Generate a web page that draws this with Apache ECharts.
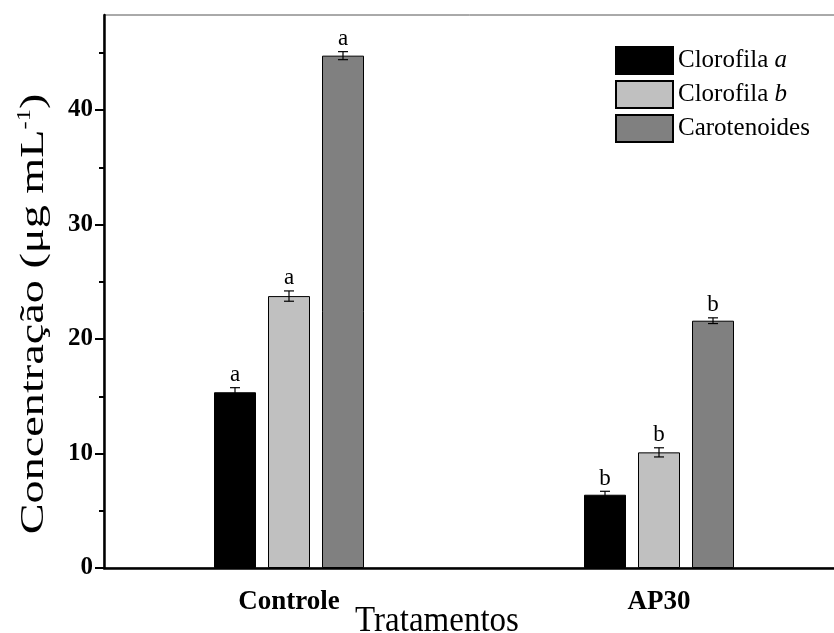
<!DOCTYPE html>
<html>
<head>
<meta charset="utf-8">
<script src="https://cdn.jsdelivr.net/npm/echarts@6/dist/echarts.min.js"></script>
<style>
  html, body { margin: 0; padding: 0; background: #fff; }
  #chart { width: 834px; height: 633px; }
</style>
</head>
<body>
<div id="chart"></div>
<script>
// dados
const tratamentos = ['Controle', 'AP30'];
const clorofilaA = [15.35, 6.4];
const clorofilaB = [23.75, 10.1];
const carotenoides = [44.75, 21.6];
const erroA = [0.4, 0.3];
const erroB = [0.45, 0.4];
const erroCar = [0.35, 0.25];
const letrasA = ['a', 'b'];
const letrasB = ['a', 'b'];
const letrasCar = ['a', 'b'];
const yTicks = [0, 10, 20, 30, 40];
const yMinorTicks = [5, 15, 25, 35, 45];

const serif = 'Liberation Serif, Times New Roman, serif';
const chart = echarts.init(document.getElementById('chart'));

const barW = 42;
const gap = 12;

// barras de erro + letras (custom series)
function errorSeries(name, values, errs, letters, idx) {
  return {
    type: 'custom',
    name: name + ' erro',
    z: 10,
    data: values.map((v, i) => [i, v, errs[i], letters[i]]),
    renderItem: (params, api) => {
      const c = api.value(0);
      const v = api.value(1);
      const e = api.value(2);
      const off = (idx - 1) * (barW + gap);
      const top = api.coord([c, v + e]);
      const bot = api.coord([c, v - e]);
      const x = top[0] + off;
      const cap = 5;
      const st = { stroke: '#000', lineWidth: 1.2 };
      return {
        type: 'group',
        children: [
          { type: 'line', shape: { x1: x, y1: top[1], x2: x, y2: bot[1] }, style: st },
          { type: 'line', shape: { x1: x - cap, y1: top[1], x2: x + cap, y2: top[1] }, style: st },
          { type: 'line', shape: { x1: x - cap, y1: bot[1], x2: x + cap, y2: bot[1] }, style: st },
          {
            type: 'text',
            style: {
              x: x, y: top[1] - 1,
              text: api.value(3),
              fill: '#000',
              font: '23px ' + serif,
              textAlign: 'center',
              textVerticalAlign: 'bottom'
            }
          }
        ]
      };
    }
  };
}

const barStyle = (color) => ({ color: color, borderColor: '#000', borderWidth: 1 });
const barGapPct = (gap / barW * 100) + '%';

const option = {
  animation: false,
  backgroundColor: '#fff',
  textStyle: { fontFamily: serif },
  grid: {
    left: 104, right: -10, top: 15, bottom: 65,
    outerBoundsMode: 'none',
    containLabel: false,
    show: true, borderColor: '#555', borderWidth: 1
  },
  legend: {
    left: 610, top: 41,
    orient: 'vertical',
    icon: 'rect',
    itemWidth: 57, itemHeight: 27, itemGap: 5,
    data: ['Clorofila a', 'Clorofila b', 'Carotenoides'],
    formatter: (n) => {
      if (n === 'Clorofila a') return 'Clorofila {i|a}';
      if (n === 'Clorofila b') return 'Clorofila {i|b}';
      return n;
    },
    textStyle: {
      fontFamily: serif, fontSize: 25, color: '#000',
      rich: { i: { fontFamily: serif, fontSize: 25, fontStyle: 'italic', color: '#000' } }
    }
  },
  // títulos dos eixos (texto esticado como no original)
  graphic: [
    {
      type: 'text',
      x: 437, y: 621,
      scaleY: 1.1,
      style: {
        text: 'Tratamentos',
        font: '33px ' + serif,
        fill: '#000',
        textAlign: 'center',
        textVerticalAlign: 'middle'
      }
    },
    {
      type: 'text',
      x: 34, y: 314,
      rotation: Math.PI / 2,
      scaleX: 1.36,
      style: {
        text: 'Concentração (μg mL{sup|-1})',
        font: '34px ' + serif,
        fill: '#000',
        textAlign: 'center',
        textVerticalAlign: 'middle',
        rich: { sup: { fontFamily: serif, fontSize: 18, fill: '#000', padding: [0, 0, 18, 0] } }
      }
    }
  ],
  xAxis: [
    {
      type: 'category',
      data: tratamentos,
      axisLine: { lineStyle: { color: '#000', width: 2.5 } },
      axisTick: { alignWithLabel: true, length: 10, lineStyle: { color: '#000', width: 2 } },
      axisLabel: { fontFamily: serif, fontSize: 27, fontWeight: 'bold', color: '#000', margin: 21 }
    },
    {
      type: 'category',
      data: tratamentos,
      position: 'bottom',
      axisLine: { show: false },
      axisTick: { length: 5, lineStyle: { color: '#000', width: 2 } },
      axisLabel: { show: false }
    }
  ],
  yAxis: [
    {
      type: 'value',
      min: 0, max: 48.3,
      splitLine: { show: false },
      axisLine: { show: true, lineStyle: { color: '#000', width: 2.5 } },
      axisTick: { show: true, customValues: yTicks, length: 9, lineStyle: { color: '#000', width: 2 } },
      axisLabel: { customValues: yTicks, fontFamily: serif, fontSize: 25, fontWeight: 'bold', color: '#000', margin: 11 }
    },
    {
      type: 'value',
      min: 0, max: 48.3,
      position: 'left',
      splitLine: { show: false },
      axisLine: { show: false },
      axisTick: { show: true, customValues: yMinorTicks, length: 5, lineStyle: { color: '#000', width: 2 } },
      axisLabel: { show: false }
    }
  ],
  series: [
    { name: 'Clorofila a', type: 'bar', data: clorofilaA, barWidth: barW, barGap: barGapPct, itemStyle: barStyle('#000000') },
    { name: 'Clorofila b', type: 'bar', data: clorofilaB, barWidth: barW, barGap: barGapPct, itemStyle: barStyle('#c0c0c0') },
    { name: 'Carotenoides', type: 'bar', data: carotenoides, barWidth: barW, barGap: barGapPct, itemStyle: barStyle('#808080') },
    errorSeries('Clorofila a', clorofilaA, erroA, letrasA, 0),
    errorSeries('Clorofila b', clorofilaB, erroB, letrasB, 1),
    errorSeries('Carotenoides', carotenoides, erroCar, letrasCar, 2)
  ]
};

chart.setOption(option);
</script>
</body>
</html>
